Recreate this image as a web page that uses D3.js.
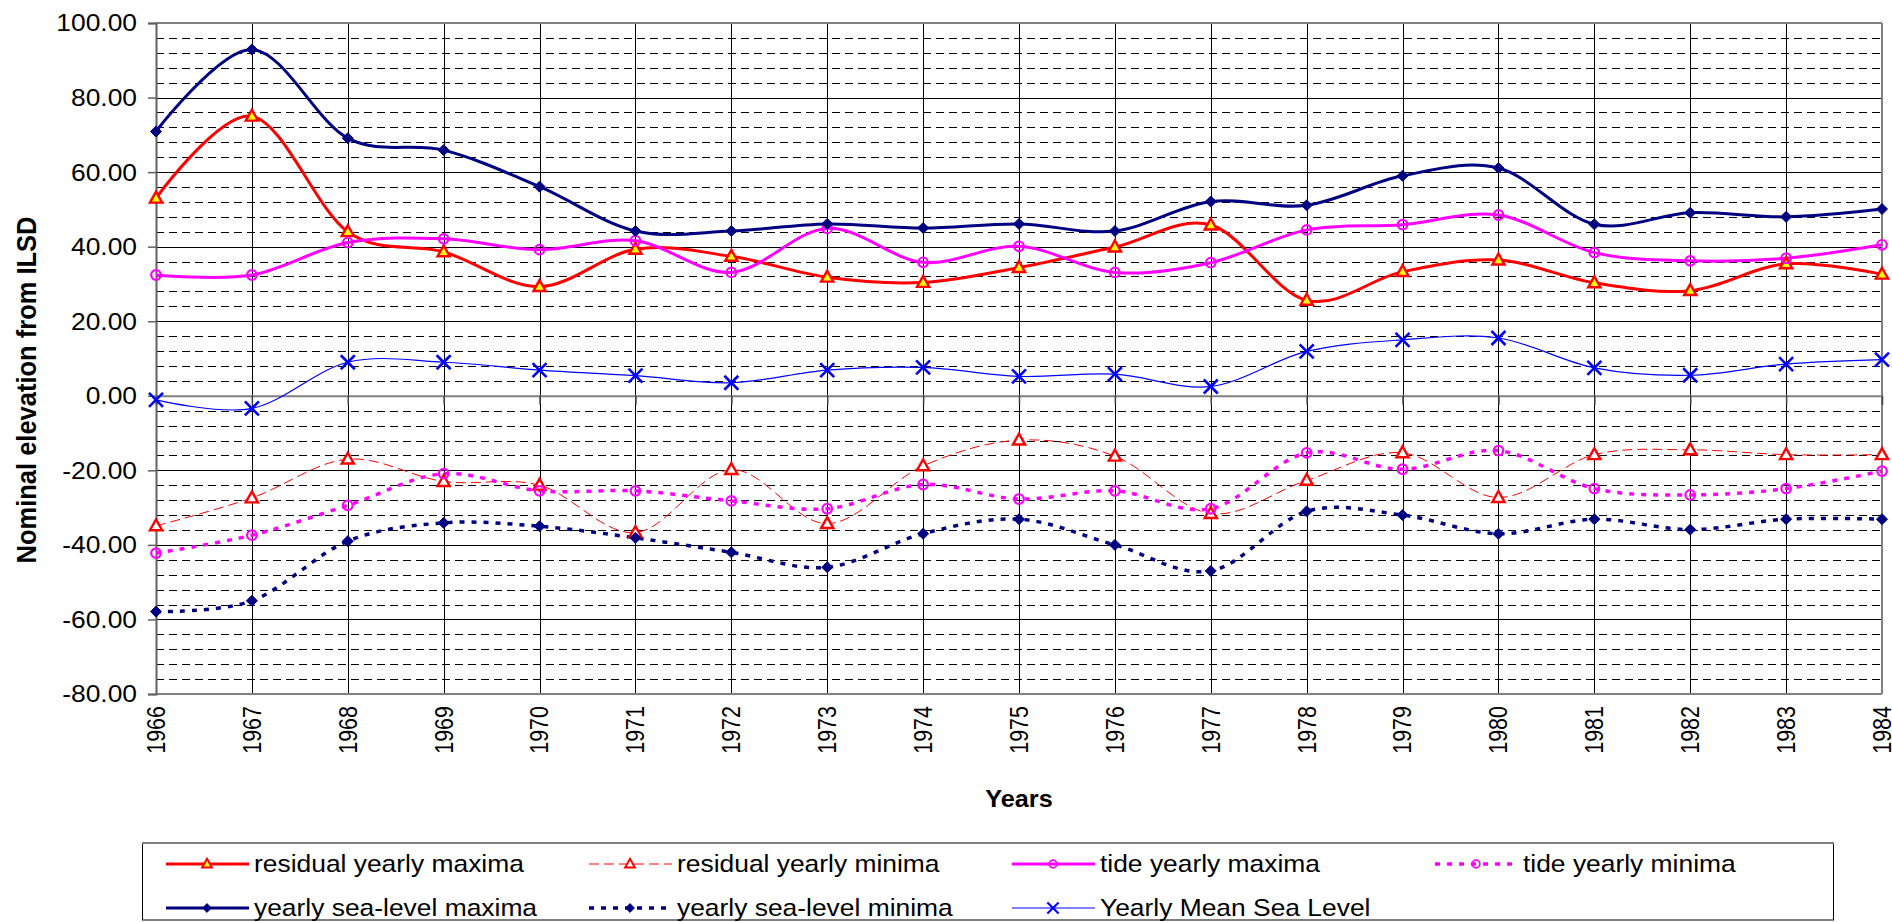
<!DOCTYPE html>
<html>
<head>
<meta charset="utf-8">
<script src="https://cdn.jsdelivr.net/npm/d3@7"></script>
<style>
  html, body { margin: 0; padding: 0; background: #fff; }
  svg { display: block; font-family: "Liberation Sans", Arial, sans-serif; }
</style>
</head>
<body>
<svg id="chart" width="1892" height="922"></svg>
<script>
// ---- data ----
const years = [1966,1967,1968,1969,1970,1971,1972,1973,1974,1975,1976,1977,1978,1979,1980,1981,1982,1983,1984];
const residualMax = [53,75,44,38.6,29.3,39.3,37.4,31.8,30.4,34.4,39.9,45.8,25.6,33.3,36.4,30.3,28.2,35.4,32.6];
const residualMin = [-34.9,-27.4,-17,-23,-24,-36.7,-19.8,-34.3,-18.8,-11.9,-16.2,-31.6,-22.7,-15.3,-27.3,-15.8,-14.5,-15.8,-15.8];
const tideMax = [32.4,32.4,41.1,42.1,39.2,41.6,33.1,44.9,35.8,40.1,33.1,35.7,44.5,45.9,48.5,38.4,36.2,36.9,40.5];
const tideMin = [-42.2,-37.4,-29.4,-20.9,-25.5,-25.5,-28.2,-30.3,-23.8,-27.7,-25.5,-30.3,-15.3,-19.7,-14.7,-24.9,-26.6,-24.9,-20.2];
const seaMax = [70.9,92.9,69.1,65.9,56.1,44.2,44.2,46.1,45,46.1,44.2,52.1,51.1,59,61.1,46,49.1,48,50.1];
const seaMin = [-57.9,-55,-39,-34.1,-35,-38.1,-42,-46,-37,-33.1,-40,-47,-31,-32,-37,-33.1,-35.9,-33.1,-33.1];
const meanSeaLevel = [-1.1,-3.4,9,9,6.9,5.4,3.5,6.9,7.6,5.2,5.8,2.5,11.9,15,15.5,7.5,5.5,8.5,9.7];
const yTicks = [100,80,60,40,20,0,-20,-40,-60,-80];
const seriesNames = ["residual yearly maxima","residual yearly minima","tide yearly maxima","tide yearly minima",
                     "yearly sea-level maxima","yearly sea-level minima","Yearly Mean Sea Level"];
const xTitle = "Years";
const yTitle = "Nominal elevation from ILSD";

// ---- layout ----
const L = 156, R = 1882, T = 23, B = 694;
const SX = 1.1; // horizontal stretch of the original picture
const svg = d3.select("#chart");
svg.append("rect").attr("width",1892).attr("height",922).attr("fill","#fff");

const x = d3.scalePoint().domain(years).range([L, R]).padding(0);
const y = d3.scaleLinear().domain([-80, 100]).range([B, T]);

// minor dashed gridlines every 4
const minor = d3.range(-80, 101, 4).filter(v => v % 20 !== 0);
svg.append("g").selectAll("line").data(minor).join("line")
  .attr("x1", L).attr("x2", R)
  .attr("y1", d => Math.round(y(d)) + 0.5).attr("y2", d => Math.round(y(d)) + 0.5)
  .attr("stroke", "#000").attr("stroke-width", 1).attr("stroke-dasharray", "8,5");
// major solid gridlines
svg.append("g").selectAll("line").data(yTicks.filter(v => v !== 0 && v !== 100 && v !== -80)).join("line")
  .attr("x1", L).attr("x2", R)
  .attr("y1", d => Math.round(y(d)) + 0.5).attr("y2", d => Math.round(y(d)) + 0.5)
  .attr("stroke", "#000").attr("stroke-width", 1);
// vertical gridlines
svg.append("g").selectAll("line").data(years).join("line")
  .attr("x1", d => Math.round(x(d)) + 0.5).attr("x2", d => Math.round(x(d)) + 0.5)
  .attr("y1", T).attr("y2", B)
  .attr("stroke", "#000").attr("stroke-width", 1);

// plot border (gray)
svg.append("line").attr("x1", L).attr("x2", R).attr("y1", T).attr("y2", T).attr("stroke", "#808080").attr("stroke-width", 2);
svg.append("line").attr("x1", R).attr("x2", R).attr("y1", T).attr("y2", B).attr("stroke", "#808080").attr("stroke-width", 2);
svg.append("line").attr("x1", L).attr("x2", R).attr("y1", B).attr("y2", B).attr("stroke", "#808080").attr("stroke-width", 2);

// y axis (left) with ticks, via d3.axisLeft
const yAxis = svg.append("g").attr("transform", `translate(${L},0)`)
  .call(d3.axisLeft(y).tickValues(yTicks).tickSize(8).tickFormat(""));
yAxis.select(".domain").attr("stroke", "#606060").attr("stroke-width", 2);
yAxis.selectAll(".tick line").attr("stroke", "#606060").attr("stroke-width", 1.5);
// x axis at 0 with ticks
const xAxis = svg.append("g").attr("transform", `translate(0,${y(0)})`)
  .call(d3.axisBottom(x).tickSize(9).tickFormat("").tickSizeOuter(0));
xAxis.select(".domain").attr("stroke", "#808080").attr("stroke-width", 2);
xAxis.selectAll(".tick line").attr("stroke", "#404040").attr("stroke-width", 1.5);

// text helper with horizontal stretch
function label(g, px, py, s, o) {
  const k = o.sx || SX;
  const gg = g.append("g").attr("transform", `translate(${px},${py}) scale(${k},1)` + (o.rotate ? " rotate(-90)" : ""));
  return gg.append("text").text(s)
    .attr("font-size", o.size).attr("font-weight", o.bold ? "bold" : "normal")
    .attr("text-anchor", o.anchor || "start").attr("dy", o.dy || "0.35em").attr("fill", "#000");
}
const fmt = v => d3.format(".2f")(v).replace("\u2212", "-");
const tg = svg.append("g");
yTicks.forEach(v => label(tg, 137, y(v), fmt(v), {size: 24, anchor: "end"}));
years.forEach(yr => label(tg, x(yr), 706, String(yr), {size: 21.5, anchor: "end", rotate: true, sx: 1.18}));
label(tg, (L + R) / 2, 799, xTitle, {size: 23, bold: true, anchor: "middle"});
label(tg, 26, 390, yTitle, {size: 25.5, bold: true, anchor: "middle", rotate: true});

// ---- series ----
const NAVY = "#000080", RED = "#FF0000", MAG = "#FF00FF", BLUE = "#0000FF";
const series = [
  {name: seriesNames[0], v: residualMax, color: RED, w: 3, dash: null, marker: "tri", fill: "#FFFF00"},
  {name: seriesNames[1], v: residualMin, color: RED, w: 1, dash: "10,5", marker: "tri", fill: "#FFFFFF"},
  {name: seriesNames[2], v: tideMax, color: MAG, w: 3, dash: null, marker: "circ", fill: "none"},
  {name: seriesNames[3], v: tideMin, color: MAG, w: 3.5, dash: "5,7", marker: "circ", fill: "none"},
  {name: seriesNames[4], v: seaMax, color: NAVY, w: 3, dash: null, marker: "dia", fill: NAVY},
  {name: seriesNames[5], v: seaMin, color: NAVY, w: 3.5, dash: "5,7", marker: "dia", fill: NAVY},
  {name: seriesNames[6], v: meanSeaLevel, color: BLUE, w: 1.2, dash: null, marker: "x", fill: "none"}
];

const line = d3.line().x((d, i) => x(years[i])).y(d => y(d)).curve(d3.curveCardinal.tension(0));

function drawMarker(g, cx, cy, s, k) {
  const sz = k || 1;
  if (s.marker === "tri") {
    const h = 10.5 * sz;
    g.append("path").attr("d", `M${cx},${cy - h * 0.62}L${cx + h * 0.58},${cy + h * 0.42}L${cx - h * 0.58},${cy + h * 0.42}Z`)
      .attr("fill", s.fill).attr("stroke", s.color).attr("stroke-width", 2.4 * sz);
  } else if (s.marker === "circ") {
    g.append("circle").attr("cx", cx).attr("cy", cy).attr("r", 4.8 * sz)
      .attr("fill", s.fill).attr("stroke", s.color).attr("stroke-width", 2.2 * sz);
  } else if (s.marker === "dia") {
    const r = 5.5 * sz;
    g.append("path").attr("d", `M${cx},${cy - r}L${cx + r},${cy}L${cx},${cy + r}L${cx - r},${cy}Z`)
      .attr("fill", s.fill).attr("stroke", s.color).attr("stroke-width", 1);
  } else if (s.marker === "x") {
    const r = 7 * sz;
    g.append("path").attr("d", `M${cx - r},${cy - r}L${cx + r},${cy + r}M${cx - r},${cy + r}L${cx + r},${cy - r}`)
      .attr("stroke", s.color).attr("stroke-width", 2.6 * sz).attr("fill", "none");
  }
}

const plot = svg.append("g");
series.forEach(s => {
  plot.append("path").datum(s.v).attr("d", line)
    .attr("fill", "none").attr("stroke", s.color).attr("stroke-width", s.w)
    .attr("stroke-dasharray", s.dash).attr("stroke-linecap", "butt");
});
series.forEach(s => {
  const mg = plot.append("g");
  s.v.forEach((v, i) => drawMarker(mg, x(years[i]), y(v), s));
});

// ---- legend ----
const lg = svg.append("g");
lg.append("rect").attr("x", 142.5).attr("y", 843).attr("width", 1691).attr("height", 77)
  .attr("fill", "#fff").attr("stroke", "#000").attr("stroke-width", 1);
lg.append("line").attr("x1", 142).attr("x2", 1834).attr("y1", 843).attr("y2", 843).attr("stroke", "#808080").attr("stroke-width", 2);
const colX = [166, 589, 1012, 1435];
const rowY = [864, 908];
series.forEach((s, i) => {
  const cx0 = colX[i % 4], cy0 = rowY[Math.floor(i / 4)];
  lg.append("line").attr("x1", cx0).attr("x2", cx0 + 83).attr("y1", cy0).attr("y2", cy0)
    .attr("stroke", s.color).attr("stroke-width", s.w).attr("stroke-dasharray", s.dash);
  drawMarker(lg, cx0 + 41, cy0, s, 0.8);
  label(lg, cx0 + 88, cy0, s.name, {size: 24});
});
</script>
</body>
</html>
